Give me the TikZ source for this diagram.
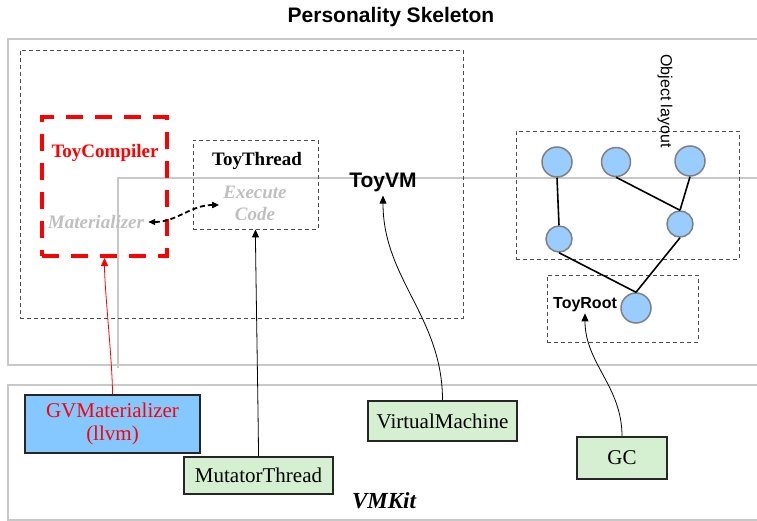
\documentclass[tikz,border=0pt]{standalone}
\usepackage{fontspec}
\setmainfont{Liberation Serif}
\setsansfont{Liberation Sans}
\usetikzlibrary{arrows.meta}
\definecolor{gline}{HTML}{C8C8C8}
\definecolor{gtext}{HTML}{BFBFBF}
\definecolor{bfill}{HTML}{85C8FF}
\definecolor{gfill}{HTML}{D5F0D0}
\definecolor{cfill}{HTML}{99CCFF}
\definecolor{credd}{HTML}{FF0000}
\begin{document}
\begin{tikzpicture}[x=1pt,y=-1pt,
  greyline/.style={draw=gline, line width=1.5pt},
  dbox/.style={draw=black!70, dash pattern=on 4pt off 3pt, line width=0.9pt, rectangle, inner sep=0pt},
  redbox/.style={draw=credd, dash pattern=on 17pt off 12pt, line width=4pt, rectangle, inner sep=0pt},
  solidbox/.style={draw=black!85, line width=1.6pt, rectangle, inner sep=0pt, align=center, font=\fontsize{21}{23}\selectfont},
  obj/.style={circle, draw=black!50, line width=1.5pt, fill=cfill, inner sep=0pt},
  edge/.style={draw=black, line width=1.6pt},
  arr/.style={draw=black, line width=0.8pt, -{Triangle[length=8pt,width=7pt]}},
  lbl/.style={inner sep=4pt},
]
\useasboundingbox (0,0) rectangle (757,521);
% grey frames
\draw[greyline] (757,39) -- (8,39) -- (8,365) -- (757,365);
\draw[greyline] (757,385) -- (8,385) -- (8,520) -- (757,520);
\draw[draw=gline, line width=1.2pt] (757,178) -- (118,178) -- (118,368);

% title
\node[lbl, font=\sffamily\bfseries\fontsize{21}{23}\selectfont] (title) at (391,17) {Personality Skeleton};

% dashed containers
\node[dbox, minimum width=443pt, minimum height=268pt] (toyvmbox) at (241.5,184) {};
\node[redbox, minimum width=125pt, minimum height=139pt] (tcbox) at (104.5,186.5) {};
\node[dbox, minimum width=125pt, minimum height=89pt] (ttbox) at (255.5,184.5) {};
\node[dbox, minimum width=223pt, minimum height=128pt] (olbox) at (627.5,195) {};
\node[dbox, minimum width=151pt, minimum height=67pt] (trbox) at (622.5,308.5) {};

% labels
\node[lbl, font=\sffamily\bfseries\fontsize{21}{23}\selectfont] (toyvm) at (383,182) {ToyVM};
\node[lbl, text=credd, font=\bfseries\fontsize{19}{21}\selectfont] (tc) at (105,153) {ToyCompiler};
\node[lbl, text=gtext, font=\bfseries\itshape\fontsize{19}{21}\selectfont] (mat) at (96,222) {Materializer};
\node[lbl, font=\bfseries\fontsize{19}{21}\selectfont] (tt) at (257,161) {ToyThread};
\node[lbl, text=gtext, align=center, font=\bfseries\itshape\fontsize{19}{22}\selectfont] (exec) at (255,203) {Execute\\Code};
\node[lbl, rotate=-90, font=\sffamily\fontsize{16}{18}\selectfont] (oltxt) at (665,101) {Object layout};
\node[lbl, font=\sffamily\bfseries\fontsize{16}{18}\selectfont] (troot) at (585,305) {ToyRoot};
\node[lbl, font=\bfseries\itshape\fontsize{23}{25}\selectfont] (vmkit) at (384,501) {VMKit};

% object graph
\node[obj, minimum size=30pt] (c1) at (557,162) {};
\node[obj, minimum size=29pt] (c2) at (616,162) {};
\node[obj, minimum size=30pt] (c3) at (690,161) {};
\node[obj, minimum size=26pt] (c4) at (559,239) {};
\node[obj, minimum size=26pt] (c5) at (680,224) {};
\node[obj, minimum size=30pt] (root) at (636,308) {};
\draw[edge] (c1.south) -- (c4.north);
\draw[edge] (c2.south) -- (c5.north);
\draw[edge] (c3.south) -- (c5.north);
\draw[edge] (c4.south) -- (root.north);
\draw[edge] (c5.south) -- (root.north);

% VMKit boxes
\node[solidbox, fill=bfill, text=credd, minimum width=175pt, minimum height=58pt] (gvm) at (112.5,424) {GVMaterializer\\(llvm)};
\node[solidbox, fill=gfill, minimum width=149pt, minimum height=37pt] (mt) at (258.5,475.5) {MutatorThread};
\node[solidbox, fill=gfill, minimum width=149pt, minimum height=40pt] (vm) at (442.5,421) {VirtualMachine};
\node[solidbox, fill=gfill, minimum width=90pt, minimum height=42pt] (gc) at (622,458) {GC};

% connectors
\draw[arr, draw=credd, -{Triangle[length=8pt,width=7pt,fill=credd]}] (gvm.north) to[out=90,in=-90,looseness=0.6] (tcbox.south);
\draw[arr] (mt.north) to[out=90,in=-90,looseness=0.3] (ttbox.south);
\draw[arr] (vm.north) to[out=90,in=-90,looseness=1] (toyvm.south);
\draw[arr] (gc.north) to[out=90,in=-90,looseness=1] ([yshift=3pt]troot.south);
\draw[black, line width=1.8pt, dash pattern=on 5pt off 3pt, {Triangle[length=7pt,width=6pt]}-{Triangle[length=7pt,width=6pt]}] (mat.east) to[out=0,in=180] ([yshift=-2pt]exec.west);
\end{tikzpicture}
\end{document}
